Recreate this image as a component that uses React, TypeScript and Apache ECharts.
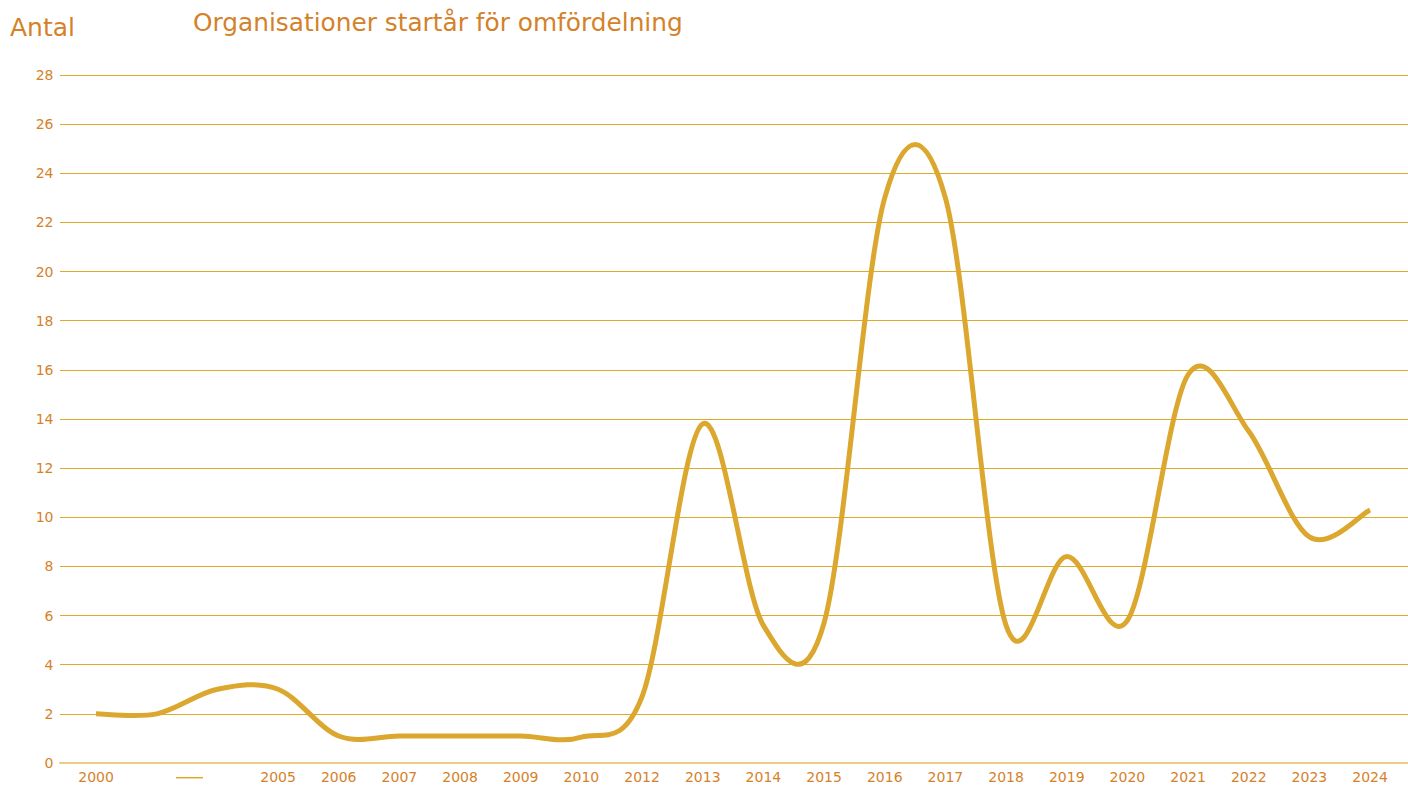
import React, { useEffect, useRef } from "react";
import * as echarts from "echarts";

const xLabels = ["2000", "", "", "2005", "2006", "2007", "2008", "2009", "2010", "2012", "2013", "2014", "2015", "2016", "2017", "2018", "2019", "2020", "2021", "2022", "2023", "2024"];
const counts = [2, 2, 3, 3, 1.1, 1.1, 1.1, 1.1, 1.05, 2.7, 13.8, 5.6, 5.7, 23, 23, 5.6, 8.4, 5.8, 15.8, 13.5, 9.2, 10.3];
const yMin = 0;
const yMax = 28;
const yStep = 2;

const titleText = "Organisationer startår för omfördelning";
const yName = "Antal";

const ORANGE = "#D4822A";
const GOLD = "#DBA72E";
const GRID = "#DDAA2A";
const FONT = "'DejaVu Sans', sans-serif";

// Smooth (Catmull-Rom style) curve through the points given by the axes' scales
function smoothPath(pts: number[][]): string {
  const n = pts.length;
  const p = (i: number) => pts[Math.max(0, Math.min(n - 1, i))];
  let d = `M${pts[0][0]},${pts[0][1]}`;
  for (let i = 0; i < n - 1; i++) {
    const p0 = p(i - 1), p1 = p(i), p2 = p(i + 1), p3 = p(i + 2);
    const c1x = p1[0] + (p2[0] - p0[0]) / 6;
    const c1y = p1[1] + (p2[1] - p0[1]) / 6;
    const c2x = p2[0] - (p3[0] - p1[0]) / 6;
    const c2y = p2[1] - (p3[1] - p1[1]) / 6;
    d += ` C${c1x},${c1y} ${c2x},${c2y} ${p2[0]},${p2[1]}`;
  }
  return d;
}

export default function App() {
  const ref = useRef<HTMLDivElement>(null);
  useEffect(() => {
    document.body.style.margin = "0";
    const chart = echarts.init(ref.current!, null, { renderer: "svg" });
    chart.setOption({
      animation: false,
      backgroundColor: "#ffffff",
      textStyle: { fontFamily: FONT },
      title: [
        {
          text: titleText,
          left: 188,
          top: 5,
          textStyle: { color: ORANGE, fontSize: 24.8, fontWeight: "normal", fontFamily: FONT },
        },
        {
          text: yName,
          left: 5,
          top: 10,
          textStyle: { color: ORANGE, fontSize: 25, fontWeight: "normal", fontFamily: FONT },
        },
      ],
      grid: [
        { left: 65.7, right: 7.6, top: 75, bottom: 22 },
        { left: 60, right: 0, top: 75, bottom: 22 },
      ],
      xAxis: [
        {
          type: "category",
          gridIndex: 0,
          data: xLabels.map((_, i) => String(i)),
          boundaryGap: true,
          axisLine: { show: false },
          axisTick: { show: false },
          splitLine: { show: false },
          axisLabel: {
            interval: 0,
            margin: 7,
            color: ORANGE,
            fontSize: 14,
            fontFamily: FONT,
            formatter: (_v: string, i: number) => xLabels[i],
          },
        },
        {
          type: "value",
          gridIndex: 1,
          min: 0,
          max: 1,
          axisLine: { show: true, lineStyle: { color: "#EBCD80", width: 2 } },
          axisTick: { show: false },
          axisLabel: { show: false },
          splitLine: { show: false },
        },
      ],
      yAxis: [
        { type: "value", gridIndex: 0, min: yMin, max: yMax, interval: yStep, show: false },
        {
          type: "value",
          gridIndex: 1,
          min: yMin,
          max: yMax,
          interval: yStep,
          axisLine: { show: false },
          axisTick: { show: false },
          axisLabel: { color: ORANGE, fontSize: 14, margin: 6.5, fontFamily: FONT },
          splitLine: { show: true, lineStyle: { color: GRID, width: 1 } },
        },
      ],
      graphic: [
        {
          type: "line",
          shape: { x1: 176, y1: 777.7, x2: 203, y2: 777.7 },
          style: { stroke: GOLD, lineWidth: 1.5 },
        },
      ],
      series: [
        {
          type: "custom",
          xAxisIndex: 0,
          yAxisIndex: 0,
          clip: false,
          data: counts.map((v, i) => [i, v]),
          encode: { x: 0, y: 1 },
          z: 5,
          renderItem: (params: any, api: any) => {
            if (params.dataIndex !== 0) return null;
            const pts = counts.map((v, i) => api.coord([i, v]));
            return {
              type: "path",
              shape: { pathData: smoothPath(pts) },
              style: { stroke: GOLD, lineWidth: 5, fill: "none", lineJoin: "round", lineCap: "butt" },
            };
          },
        },
      ],
    });
    return () => chart.dispose();
  }, []);
  return <div ref={ref} style={{ width: 1408, height: 785, overflow: "hidden" }} />;
}
